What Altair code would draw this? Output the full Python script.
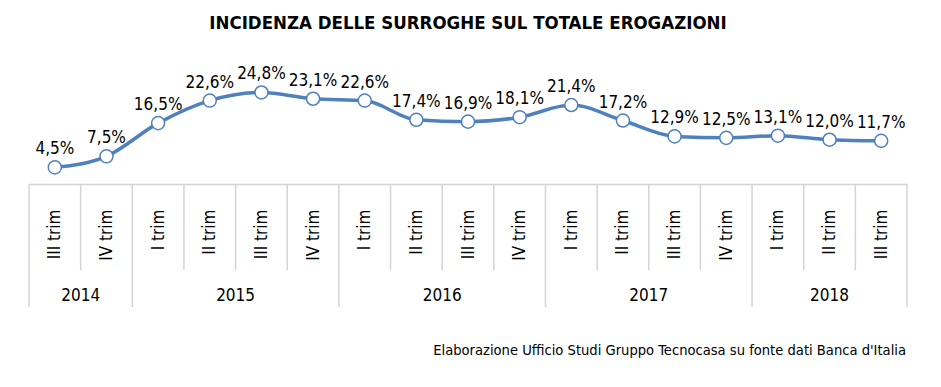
import altair as alt
import pandas as pd

title_text = "INCIDENZA DELLE SURROGHE SUL TOTALE EROGAZIONI"
footer_text = "Elaborazione Ufficio Studi Gruppo Tecnocasa su fonte dati Banca d'Italia"

quarters = ["III trim", "IV trim",
            "I trim", "II trim", "III trim", "IV trim",
            "I trim", "II trim", "III trim", "IV trim",
            "I trim", "II trim", "III trim", "IV trim",
            "I trim", "II trim", "III trim"]
years = ["2014", "2014",
         "2015", "2015", "2015", "2015",
         "2016", "2016", "2016", "2016",
         "2017", "2017", "2017", "2017",
         "2018", "2018", "2018"]
values = [4.5, 7.5, 16.5, 22.6, 24.8, 23.1, 22.6, 17.4, 16.9, 18.1,
          21.4, 17.2, 12.9, 12.5, 13.1, 12.0, 11.7]

FONT = "Liberation Sans Narrow, DejaVu Sans Condensed, Liberation Sans, sans-serif"
BLUE = "#4f81bd"
GRID = "#d4d4d4"
W, H = 878, 124

n = len(values)
df = pd.DataFrame({"idx": list(range(n)), "quarter": quarters, "year": years, "value": values})
df["label"] = [f"{v:.1f}".replace(".", ",") + "%" for v in values]

# divider positions derived from the category list
bounds = []
for i in range(n + 1):
    long = i == 0 or i == n or years[i] != years[i - 1]
    bounds.append({"b": i - 0.5, "long": long})
bdf = pd.DataFrame(bounds)

ydf = df.groupby("year", as_index=False)["idx"].mean()

label_array = "[" + ",".join(f"'{q}'" for q in quarters) + "]"

xscale = alt.Scale(domain=[-0.5, n - 0.5], nice=False, zero=False)
yscale = alt.Scale(domain=[0, 33.6], nice=False, zero=True)

x_enc = alt.X("idx:Q", scale=xscale,
              axis=alt.Axis(values=list(range(n)), labelExpr=f"{label_array}[datum.value]",
                            labelAngle=-90, labelPadding=25, ticks=False, grid=False,
                            domainColor=GRID, domainWidth=1.5, labelFontSize=17, labelFont=FONT,
                            labelColor="#000000", title=None, labelAlign="right",
                            labelBaseline="middle"))
y_enc = alt.Y("value:Q", scale=yscale, axis=None)

base = alt.Chart(df)

line = base.mark_line(interpolate="monotone", color=BLUE, strokeWidth=3.5).encode(x=x_enc, y=y_enc)
pts = base.mark_point(filled=True, fill="white", stroke=BLUE, strokeWidth=1.5, size=170, opacity=1).encode(
    x="idx:Q", y="value:Q")
labels = base.mark_text(font=FONT, fontSize=17, dy=-13, baseline="alphabetic", color="#000000").encode(
    x="idx:Q", y="value:Q", text="label:N")

short_rules = alt.Chart(bdf).transform_filter("!datum.long").mark_rule(color=GRID, strokeWidth=1.5).encode(
    x=alt.X("b:Q", scale=xscale), y=alt.value(H), y2=alt.value(H + 86))
long_rules = alt.Chart(bdf).transform_filter("datum.long").mark_rule(color=GRID, strokeWidth=1.5).encode(
    x=alt.X("b:Q", scale=xscale), y=alt.value(H), y2=alt.value(H + 123))

year_text = alt.Chart(ydf).mark_text(font=FONT, fontSize=17, baseline="middle", color="#000000").encode(
    x=alt.X("idx:Q", scale=xscale), y=alt.value(H + 112), text="year:N")

footer = alt.Chart(pd.DataFrame({"t": [footer_text]})).mark_text(
    font=FONT, fontSize=14.6, align="right", baseline="alphabetic", color="#000000").encode(
    x=alt.value(W - 1), y=alt.value(H + 171), text="t:N")

chart = alt.layer(short_rules, long_rules, line, pts, labels, year_text, footer).properties(
    width=W, height=H,
    title=alt.Title(title_text, font=FONT, fontSize=18.5, fontWeight="bold", anchor="middle",
                    baseline="bottom", offset=9, color="#000000"),
    autosize=alt.AutoSizeParams(type="none"),
    padding={"left": 21, "top": 52, "right": 26, "bottom": 195},
).configure_view(stroke=None)

chart.save("out.html", embed_options={"renderer": "svg", "actions": False})
